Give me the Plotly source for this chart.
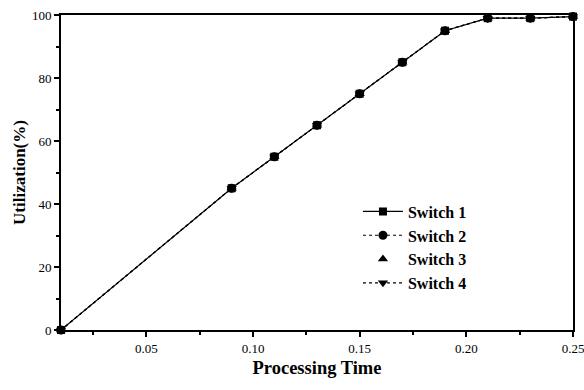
import plotly.graph_objects as go

proc_time = [0.01, 0.09, 0.11, 0.13, 0.15, 0.17, 0.19, 0.21, 0.23, 0.25]
switch1 = [0, 45, 55, 65, 75, 85, 95, 99, 99, 99.5]
switch2 = [0, 45, 55, 65, 75, 85, 95, 99, 99, 99.5]
switch3 = [0, 45, 55, 65, 75, 85, 95, 99, 99, 99.5]
switch4 = [0, 45, 55, 65, 75, 85, 95, 99, 99, 99.5]
names = ["Switch 1", "Switch 2", "Switch 3", "Switch 4"]
x_ticks = [0.05, 0.10, 0.15, 0.20, 0.25]
y_ticks = [0, 20, 40, 60, 80, 100]

FONT = "Liberation Serif"
fig = go.Figure()
styles = [
    dict(mode="lines+markers", line=dict(color="black", width=1.2, dash="solid"), marker=dict(symbol="square", size=8, color="black")),
    dict(mode="lines+markers", line=dict(color="black", width=1.2, dash="dot"), marker=dict(symbol="circle", size=9, color="black")),
    dict(mode="markers", marker=dict(symbol="triangle-up", size=9, color="black")),
    dict(mode="lines+markers", line=dict(color="black", width=1.2, dash="dot"), marker=dict(symbol="triangle-down", size=9, color="black")),
]
for name, ys, st in zip(names, [switch1, switch2, switch3, switch4], styles):
    fig.add_trace(go.Scatter(x=proc_time, y=ys, name=name, cliponaxis=False, **st))

fig.update_layout(
    width=584, height=390,
    margin=dict(l=61, r=11, t=15, b=60),
    paper_bgcolor="white", plot_bgcolor="white",
    font=dict(family=FONT, color="black", size=13),
    showlegend=True,
    legend=dict(x=0.58, y=0.43, xanchor="left", yanchor="top",
                bgcolor="rgba(0,0,0,0)", borderwidth=0,
                font=dict(family=FONT, size=16, color="black", weight="bold"),
                tracegroupgap=0, itemwidth=40),
    xaxis=dict(range=[0.01, 0.25], tickvals=x_ticks, ticktext=[f"{v:.2f}" for v in x_ticks],
               automargin=False, ticklabeloverflow="allow",
               showgrid=False, zeroline=False, showline=True, linecolor="black", linewidth=2,
               mirror=True, ticks="outside", ticklen=5, tickwidth=1.5, tickcolor="black",
               minor=dict(dtick=0.025, tick0=0.0, ticks="outside", ticklen=3, tickwidth=1.5, tickcolor="black"),
               tickfont=dict(family=FONT, size=13),
               title=dict(text="Processing Time", font=dict(family=FONT, size=18.5, weight="bold"), standoff=6)),
    yaxis=dict(range=[0, 100], tickvals=y_ticks, automargin=False, ticklabeloverflow="allow",
               showgrid=False, zeroline=False, showline=True, linecolor="black", linewidth=2,
               mirror=True, ticks="outside", ticklen=5, tickwidth=1.5, tickcolor="black",
               minor=dict(dtick=10, ticks="outside", ticklen=3, tickwidth=1.5, tickcolor="black"),
               tickfont=dict(family=FONT, size=13),
               title=dict(text="Utilization(%)", font=dict(family=FONT, size=17, weight="bold"), standoff=2)),
)
fig.write_html("out.html")
